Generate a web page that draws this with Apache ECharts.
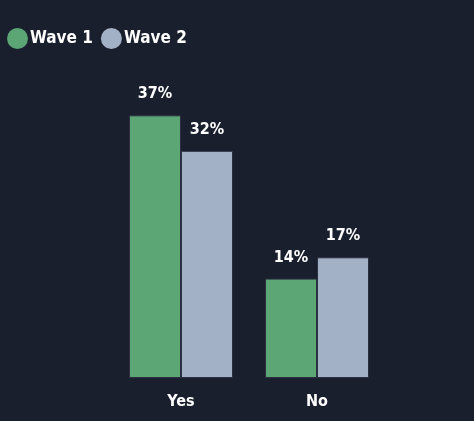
<!DOCTYPE html>
<html><head><meta charset="utf-8">
<script src="https://cdn.jsdelivr.net/npm/echarts@6/dist/echarts.min.js"></script>
<style>html,body{margin:0;padding:0;background:#1a1f2e;}#c{width:474px;height:421px;}</style>
</head><body><div id="c"></div>
<script>
const categories = ['Yes', 'No'];
const seriesNames = ['Wave 1', 'Wave 2'];
const wave1 = [37, 14];
const wave2 = [32, 17];
const colors = ['#5ba674', '#a3b1c6'];

const chart = echarts.init(document.getElementById('c'));
const labelStyle = {show: true, position: 'top', distance: 13, color: '#ffffff', fontSize: 16, fontWeight: 'bold', fontFamily: 'DejaVu Sans Condensed', formatter: p => p.value + '%'};
chart.setOption({
  backgroundColor: '#1a1f2e',
  animation: false,
  legend: {
    left: 2, top: 23, itemGap: 8, itemWidth: 21, itemHeight: 21, icon: 'circle',
    itemStyle: {borderWidth: 0},
    textStyle: {color: '#ffffff', fontSize: 17, fontWeight: 'bold', fontFamily: 'DejaVu Sans Condensed', padding: [0,0,0,-3]},
    data: seriesNames
  },
  grid: {left: 113, width: 272, top: 94, bottom: 43},
  xAxis: {type: 'category', data: categories, axisLine: {show: false}, axisTick: {show: false},
    axisLabel: {color: '#ffffff', fontSize: 16, fontWeight: 'bold', fontFamily: 'DejaVu Sans Condensed', margin: 16}},
  yAxis: {type: 'value', min: 0, max: 40, show: false, splitLine: {show: false}},
  series: [
    {name: seriesNames[0], type: 'bar', data: wave1, barWidth: 52, barGap: '0%', itemStyle: {color: colors[0], borderColor: '#2a3040', borderWidth: 1}, label: labelStyle},
    {name: seriesNames[1], type: 'bar', data: wave2, barWidth: 52, itemStyle: {color: colors[1], borderColor: '#2a3040', borderWidth: 1}, label: labelStyle}
  ]
});
</script></body></html>
